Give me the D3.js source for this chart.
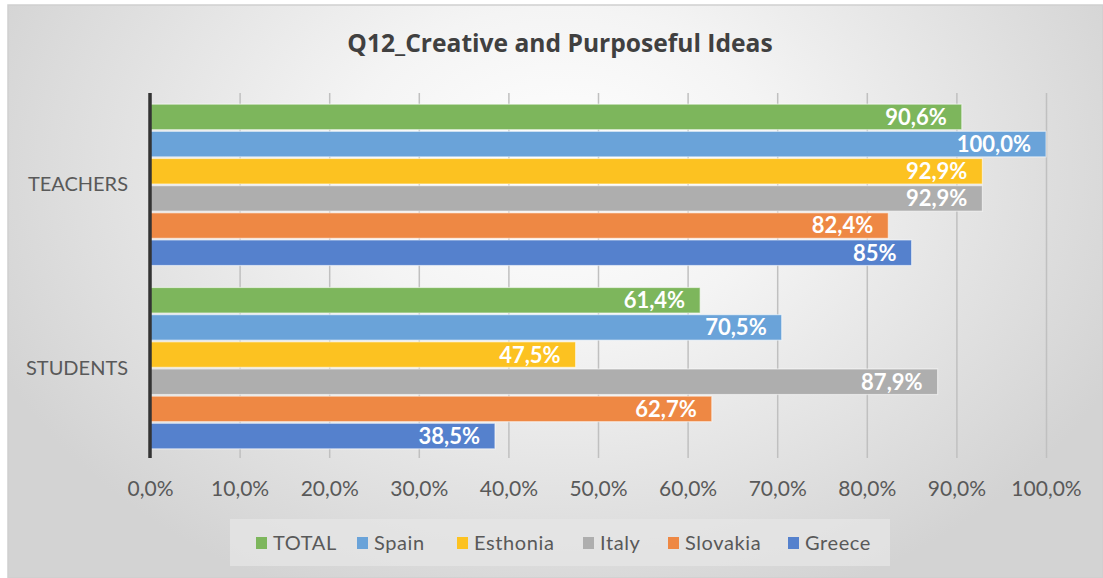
<!DOCTYPE html>
<html><head><meta charset="utf-8">
<script src="https://cdn.jsdelivr.net/npm/d3@7"></script>
<style>html,body{margin:0;padding:0;background:#fff;}svg{display:block;}</style>
</head><body>
<svg id="chart" width="1103" height="578"></svg>
<script>
const title = "Q12_Creative and Purposeful Ideas";
const categories = ["TEACHERS", "STUDENTS"];
const seriesNames = ["TOTAL", "Spain", "Esthonia", "Italy", "Slovakia", "Greece"];
const seriesColors = ["#7db65c", "#6aa3d9", "#fcc221", "#aeaeae", "#ee8844", "#5581cd"];
const teachersValues = [90.6, 100.0, 92.9, 92.9, 82.4, 85.0];
const studentsValues = [61.4, 70.5, 47.5, 87.9, 62.7, 38.5];
const teachersLabels = ["90,6%", "100,0%", "92,9%", "92,9%", "82,4%", "85%"];
const studentsLabels = ["61,4%", "70,5%", "47,5%", "87,9%", "62,7%", "38,5%"];
const tickValues = [0, 10, 20, 30, 40, 50, 60, 70, 80, 90, 100];
const tickLabels = ["0,0%", "10,0%", "20,0%", "30,0%", "40,0%", "50,0%", "60,0%", "70,0%", "80,0%", "90,0%", "100,0%"];

const values = {TEACHERS: teachersValues, STUDENTS: studentsValues};
const labels = {TEACHERS: teachersLabels, STUDENTS: studentsLabels};

const FONT = "Lato, 'Open Sans', sans-serif";
const TFONT = "'Open Sans', Lato, sans-serif";
const svg = d3.select("#chart");
const W = 1103, H = 578;

const defs = svg.append("defs");
const grad = defs.append("radialGradient").attr("id", "bg")
  .attr("gradientUnits", "userSpaceOnUse")
  .attr("cx", 560).attr("cy", 170).attr("r", 620)
  .attr("gradientTransform", "translate(560,170) scale(1,0.75) translate(-560,-170)");
grad.append("stop").attr("offset", "0%").attr("stop-color", "#ffffff");
grad.append("stop").attr("offset", "35%").attr("stop-color", "#f4f4f4");
grad.append("stop").attr("offset", "100%").attr("stop-color", "#d3d3d3");

svg.append("rect").attr("x", 0).attr("y", 0).attr("width", W).attr("height", H).attr("fill", "#ffffff");
svg.append("rect").attr("x", 8).attr("y", 5).attr("width", W - 8).attr("height", H - 5)
  .attr("fill", "url(#bg)").attr("stroke", "#cfcfcf").attr("stroke-width", 1.5);

// Title
svg.append("text").attr("x", 560).attr("y", 52).attr("text-anchor", "middle")
  .attr("font-family", TFONT).attr("font-weight", "bold").attr("font-size", 24.6)
  .attr("fill", "#404040").text(title);

const x = d3.scaleLinear().domain([0, 100]).range([150, 1046]);
const y0 = d3.scaleBand().domain(categories).range([95, 458]).paddingInner(0.12).paddingOuter(0.05);
const y1 = d3.scaleBand().domain(seriesNames).range([0, y0.bandwidth()]).paddingInner(0.06);

// gridlines
const grid = svg.append("g").attr("transform", "translate(0,458)")
  .call(d3.axisBottom(x).tickValues(tickValues).tickSize(-365).tickFormat(""));
grid.select(".domain").remove();
grid.selectAll(".tick line").attr("stroke", "#c0c0c0").attr("stroke-width", 1.5);

// tick labels
const axis = svg.append("g").attr("transform", "translate(0,470)")
  .call(d3.axisBottom(x).tickValues(tickValues).tickSize(0).tickFormat((d, i) => tickLabels[i]));
axis.select(".domain").remove();
axis.selectAll("text").attr("font-family", FONT).attr("font-size", 21).attr("fill", "#595959")
  .attr("dy", "0.71em").attr("y", 11);

// bars
const groups = svg.append("g").selectAll("g").data(categories).join("g")
  .attr("transform", d => `translate(0,${y0(d)})`);
const rows = c => seriesNames.map((s, i) => ({s, i, v: values[c][i], l: labels[c][i]}));
groups.selectAll("rect").data(rows).join("rect")
  .attr("x", x(0)).attr("y", d => y1(d.s))
  .attr("width", d => x(d.v) - x(0)).attr("height", y1.bandwidth())
  .attr("fill", d => seriesColors[d.i])
  .attr("stroke", "rgba(255,255,255,0.55)").attr("stroke-width", 1.2);
groups.selectAll("text").data(rows).join("text")
  .attr("x", d => x(d.v) - 15).attr("y", d => y1(d.s) + y1.bandwidth() / 2)
  .attr("dy", "0.36em").attr("text-anchor", "end")
  .attr("font-family", FONT).attr("font-weight", "bold").attr("font-size", 22)
  .attr("fill", "#ffffff").text(d => d.l);

// category axis
const yAxis = svg.append("g").attr("transform", "translate(150,0)")
  .call(d3.axisLeft(y0).tickSize(0).tickPadding(22));
yAxis.select(".domain").remove();
yAxis.selectAll("text").attr("font-family", FONT).attr("font-size", 20).attr("fill", "#595959");
svg.append("line").attr("x1", x(0)).attr("x2", x(0)).attr("y1", 93).attr("y2", 458)
  .attr("stroke", "#333333").attr("stroke-width", 3.5);

// legend
svg.append("rect").attr("x", 230).attr("y", 519).attr("width", 660).attr("height", 47)
  .attr("fill", "#e6e6e6").attr("opacity", 0.75);
const legendX = [256, 357, 457, 583, 668, 788];
const leg = svg.append("g").selectAll("g").data(seriesNames).join("g")
  .attr("transform", (d, i) => `translate(${legendX[i]},543)`);
leg.append("rect").attr("x", 0).attr("y", -6).attr("width", 11).attr("height", 12)
  .attr("fill", (d, i) => seriesColors[i]);
leg.append("text").attr("x", 17).attr("y", 0).attr("dy", "0.36em")
  .attr("font-family", FONT).attr("font-size", 20).attr("letter-spacing", 0.6)
  .attr("fill", "#595959").text(d => d);
</script>
</body></html>
